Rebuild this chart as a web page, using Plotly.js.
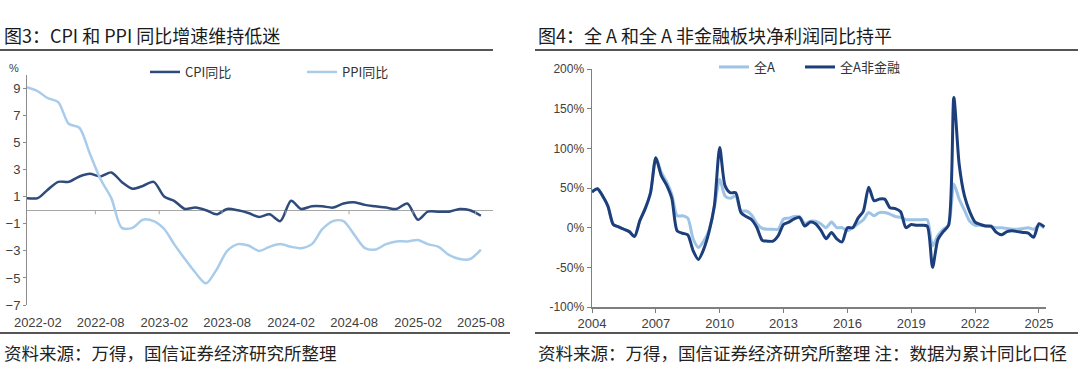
<!DOCTYPE html>
<html><head><meta charset="utf-8">
<script src="https://cdn.plot.ly/plotly-3.0.1.min.js"></script>
<style>html,body{margin:0;padding:0;background:#fff}#chart{width:1080px;height:379px}</style>
</head><body><div id="chart"></div>
<script>
// ---------- Left chart: CPI / PPI (monthly, 2022-01 .. 2025-08) ----------
const monthStart = [2022, 1];
const monthCount = 44;
const cpi = [0.9,0.9,1.5,2.1,2.1,2.5,2.7,2.5,2.8,2.1,1.6,1.8,
             2.1,1.0,0.7,0.1,0.2,0.0,-0.3,0.1,0.0,-0.2,-0.5,-0.3,
             -0.8,0.7,0.1,0.3,0.3,0.2,0.5,0.6,0.4,0.3,0.2,0.1,
             0.5,-0.7,-0.1,-0.1,-0.1,0.1,0.0,-0.4];
const ppi = [9.1,8.8,8.3,8.0,6.4,6.1,4.2,2.3,0.9,-1.3,-1.3,-0.7,
             -0.8,-1.4,-2.5,-3.6,-4.6,-5.4,-4.4,-3.0,-2.5,-2.6,-3.0,-2.7,
             -2.5,-2.7,-2.8,-2.5,-1.4,-0.8,-0.8,-1.8,-2.8,-2.9,-2.5,-2.3,
             -2.3,-2.2,-2.5,-2.7,-3.3,-3.6,-3.6,-2.9];
const leftTickLabels = ['2022-02','2022-08','2023-02','2023-08','2024-02','2024-08','2025-02','2025-08'];
const leftYTicks = [-7,-5,-3,-1,1,3,5,7,9];

// ---------- Right chart: net profit yoy (quarterly, 2004Q1 .. 2025Q2) ----------
const quarterStartYear = 2004;
const allA = [45,49,40,27, 4,1,-2,-5, -11,9,24,44, 88,70,58,42,
              15,15,12,-14, -25,-17,-3,26, 61,40,37,40, 21,21,16,5,
              -1,-2,-2,-2, 11,12,14,14, 5,8,8,5, 0,7,0,0,
              -4,0,5,10, 19,15,19,19, 17,14,13,10, 10,10,10,10,
              -23,-10,-2,3, 55,36,22,8, 3,3,2,1, 0,0,-1,-2,
              -2,-1,0,-2, 3,0];
const allANonFin = [45,49,40,27, 4,1,-2,-5, -11,9,24,44, 88,66,54,37,
              -4,-7,-9,-29, -40,-27,-5,28, 101,53,44,44, 19,14,10,0,
              -16,-17,-17,-10, 4,7,11,13, 2,7,5,-3, -14,-6,-14,-18,
              0,0,12,21, 51,34,36,36, 25,24,20,0, 4,3,3,2,
              -50,-15,-5,3, 164,80,40,20, 7,4,2,2, -6,-9,-5,-4,
              -5,-6,-7,-12, 5,1];
const rightXTicks = [2004,2007,2010,2013,2016,2019,2022,2025];
const rightYTicks = [-100,-50,0,50,100,150,200];
const rightYTickText = ['-100%','-50%','0%','50%','100%','150%','200%'];

// ---------- derived ----------
const months = [];
for (let i = 0; i < monthCount; i++) {
  const m0 = monthStart[1] - 1 + i;
  const y = monthStart[0] + Math.floor(m0 / 12);
  const m = (m0 % 12) + 1;
  months.push(y + '-' + String(m).padStart(2, '0') + '-01');
}
const quarters = allA.map((_, i) => quarterStartYear + i / 4);

const W = 1080, H = 379;
const fx = px => px / W;
const fy = py => 1 - py / H;

const cjk = '"Noto Sans CJK SC", "Noto Sans", sans-serif';
const num = '"Liberation Sans", Arial, sans-serif';
const axisGray = '#8c8c8c';
const tickText = '#404040';

const cpiColor = '#2F4B7C', ppiColor = '#A9CCEB';
const aColor = '#9DC3E6', nfColor = '#1C3F7C';

const traces = [
  {x: months, y: cpi, name: 'CPI同比', type: 'scatter', mode: 'lines',
   line: {color: cpiColor, width: 2.5, shape: 'spline', smoothing: 0.8}, xaxis: 'x', yaxis: 'y', legend: 'legend'},
  {x: months, y: ppi, name: 'PPI同比', type: 'scatter', mode: 'lines',
   line: {color: ppiColor, width: 2.5, shape: 'spline', smoothing: 0.8}, xaxis: 'x', yaxis: 'y', legend: 'legend2'},
  {x: quarters, y: allA, name: '全A', type: 'scatter', mode: 'lines',
   line: {color: aColor, width: 3, shape: 'spline', smoothing: 0.7}, xaxis: 'x2', yaxis: 'y2', legend: 'legend3'},
  {x: quarters, y: allANonFin, name: '全A非金融', type: 'scatter', mode: 'lines',
   line: {color: nfColor, width: 3, shape: 'spline', smoothing: 0.7}, xaxis: 'x2', yaxis: 'y2', legend: 'legend4'}
];

const shiftDays = (s, d) => { const t = new Date(s + 'T00:00:00Z'); t.setUTCDate(t.getUTCDate() + d); return t.toISOString().slice(0, 10); };

const shapes = [
  // title rules
  {type: 'line', xref: 'paper', yref: 'paper', x0: fx(0), x1: fx(493), y0: fy(50), y1: fy(50), line: {color: '#555', width: 2}},
  {type: 'line', xref: 'paper', yref: 'paper', x0: fx(535), x1: fx(1078), y0: fy(50), y1: fy(50), line: {color: '#555', width: 2}},
  // bottom rules
  {type: 'line', xref: 'paper', yref: 'paper', x0: fx(0), x1: fx(510), y0: fy(333), y1: fy(333), line: {color: '#555', width: 2}},
  {type: 'line', xref: 'paper', yref: 'paper', x0: fx(535), x1: fx(1078), y0: fy(333), y1: fy(333), line: {color: '#555', width: 2}}
];
// tick marks on the zero line (left chart)
leftTickLabels.slice(1).forEach(t => {
  const d = shiftDays(t + '-01', -15);
  shapes.push({type: 'line', xref: 'x', yref: 'y', x0: d, x1: d, ysizemode: 'pixel', yanchor: 0, y0: 0, y1: -4,
               line: {color: '#a6a6a6', width: 1}});
});

const annotations = [
  {text: '图3：CPI 和 PPI 同比增速维持低迷', xref: 'paper', yref: 'paper', x: fx(2), y: fy(35), xanchor: 'left', yanchor: 'middle',
   showarrow: false, font: {family: cjk, size: 18, color: '#1a1a1a'}},
  {text: '图4：全 A 和全 A 非金融板块净利润同比持平', xref: 'paper', yref: 'paper', x: fx(536), y: fy(35), xanchor: 'left', yanchor: 'middle',
   showarrow: false, font: {family: cjk, size: 18, color: '#1a1a1a'}},
  {text: '资料来源：万得，国信证券经济研究所整理', xref: 'paper', yref: 'paper', x: fx(2), y: fy(352), xanchor: 'left', yanchor: 'middle',
   showarrow: false, font: {family: cjk, size: 17.5, color: '#222'}},
  {text: '资料来源：万得，国信证券经济研究所整理 注：数据为累计同比口径', xref: 'paper', yref: 'paper', x: fx(536), y: fy(352), xanchor: 'left', yanchor: 'middle',
   showarrow: false, font: {family: cjk, size: 17.5, color: '#222'}},
  {text: '%', xref: 'paper', yref: 'paper', x: fx(14), y: fy(68), xanchor: 'center', yanchor: 'middle',
   showarrow: false, font: {family: num, size: 11, color: tickText}}
];

const legendBase = {orientation: 'h', xanchor: 'left', yanchor: 'middle', bgcolor: 'rgba(0,0,0,0)',
                    font: {family: cjk, size: 13, color: '#333'}, itemwidth: 30};

const layout = {
  width: W, height: H,
  margin: {l: 0, r: 0, t: 0, b: 0},
  paper_bgcolor: '#fff', plot_bgcolor: 'rgba(0,0,0,0)',
  showlegend: true,
  legend: Object.assign({}, legendBase, {x: fx(145), y: fy(72)}),
  legend2: Object.assign({}, legendBase, {x: fx(302), y: fy(72)}),
  legend3: Object.assign({}, legendBase, {x: fx(714), y: fy(67)}),
  legend4: Object.assign({}, legendBase, {x: fx(800), y: fy(67)}),
  xaxis: {domain: [fx(27), fx(493)], range: ['2022-01-01', '2025-09-05'], type: 'date', anchor: 'y',
          tickvals: leftTickLabels.map(t => t + '-01'), ticktext: leftTickLabels,
          showline: false, showgrid: false, zeroline: false, ticks: '', ticklabelstandoff: 8,
          tickfont: {family: num, size: 13, color: tickText}},
  yaxis: {domain: [fy(305), fy(75)], range: [-7, 10], anchor: 'x', tickvals: leftYTicks,
          showline: true, linecolor: axisGray, linewidth: 1, ticks: 'outside', ticklen: 3, tickcolor: axisGray,
          showgrid: false, zeroline: true, zerolinecolor: '#a6a6a6', zerolinewidth: 1,
          tickfont: {family: num, size: 13, color: tickText}},
  xaxis2: {domain: [fx(592), fx(1046)], range: [2004, 2025.33], anchor: 'y2', tickvals: rightXTicks,
           ticktext: rightXTicks.map(String),
           showline: true, linecolor: '#7f7f7f', linewidth: 1.5, ticks: 'outside', ticklen: 4, tickcolor: '#7f7f7f',
           showgrid: false, zeroline: false, tickfont: {family: num, size: 13, color: tickText}},
  yaxis2: {domain: [fy(307), fy(69)], range: [-100, 200], anchor: 'x2', tickvals: rightYTicks, ticktext: rightYTickText,
           showline: true, linecolor: '#7f7f7f', linewidth: 1.5, ticks: 'outside', ticklen: 4, tickcolor: '#7f7f7f',
           showgrid: false, zeroline: false, tickfont: {family: num, size: 12, color: tickText}},
  shapes: shapes,
  annotations: annotations
};

Plotly.newPlot('chart', traces, layout, {displayModeBar: false, staticPlot: true});
</script>
</body></html>
